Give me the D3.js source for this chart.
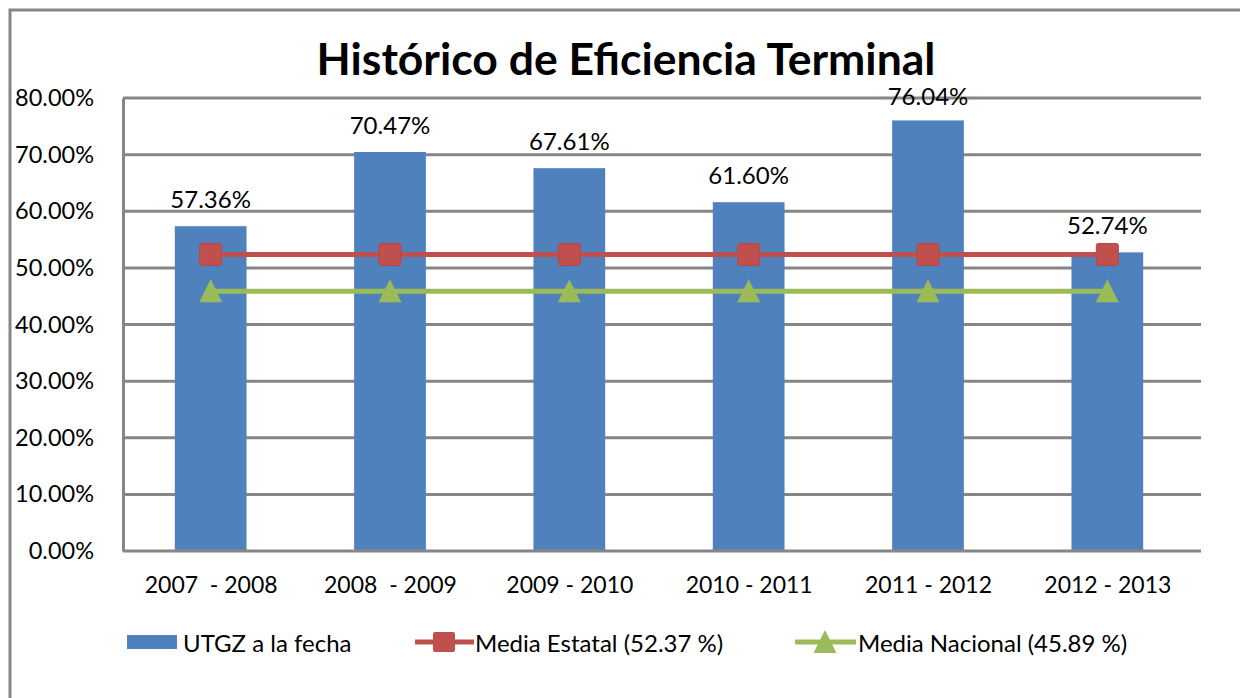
<!DOCTYPE html>
<meta charset="utf-8">
<style>
  body { margin: 0; background: #fff; }
  text { font-family: Lato, 'Open Sans', sans-serif; fill: #000; white-space: pre; }
</style>
<script src="https://d3js.org/d3.v7.min.js"></script>
<div id="chart"></div>
<script>
// data
var categories = ["2007  - 2008", "2008  - 2009", "2009 - 2010", "2010 - 2011", "2011 - 2012", "2012 - 2013"];
var utgz = [57.36, 70.47, 67.61, 61.60, 76.04, 52.74];
var mediaEstatal = [52.37, 52.37, 52.37, 52.37, 52.37, 52.37];
var mediaNacional = [45.89, 45.89, 45.89, 45.89, 45.89, 45.89];
var yTicks = [0, 10, 20, 30, 40, 50, 60, 70, 80];

var W = 1240, H = 698;
var blue = "#4F81BD", red = "#C0504D", green = "#9BBB59", grid = "#868686";

var svg = d3.select("#chart").append("svg")
  .attr("width", W).attr("height", H);

// outer frame
svg.append("rect")
  .attr("x", 10).attr("y", 10)
  .attr("width", W).attr("height", H)
  .attr("fill", "none").attr("stroke", grid).attr("stroke-width", 3);

var plotL = 123, plotR = 1201, plotT = 98, plotB = 551;

// categories sit slightly left of the axis box, like the original
var x = d3.scaleBand().domain(categories).range([121, 1197]).paddingInner(0.6).paddingOuter(0.3);
var xc = d3.scalePoint().domain(categories).range([121, 1197]).padding(0.5);
var y = d3.scaleLinear().domain([0, 80]).range([plotB, plotT]);

// title
svg.append("text")
  .attr("x", 626).attr("y", 75)
  .attr("text-anchor", "middle")
  .style("font-size", "44.5px").style("font-weight", "bold")
  .text("Histórico de Eficiencia Terminal");

// gridlines
svg.append("g").selectAll("line")
  .data(yTicks.slice(1))
  .enter().append("line")
    .attr("x1", plotL).attr("x2", plotR)
    .attr("y1", function(d) { return y(d); })
    .attr("y2", function(d) { return y(d); })
    .attr("stroke", grid).attr("stroke-width", 3);

// y axis
var yAxis = svg.append("g")
  .attr("transform", "translate(" + plotL + ",0)")
  .call(d3.axisLeft(y).tickValues(yTicks).tickSize(0).tickPadding(29)
    .tickFormat(function(d) { return d.toFixed(2) + "%"; }));
yAxis.select(".domain").attr("stroke", grid).attr("stroke-width", 3);
yAxis.selectAll("text").style("font-size", "23.5px").style("font-family", "Lato, sans-serif");

// bars
svg.append("g").selectAll("rect")
  .data(utgz)
  .enter().append("rect")
    .attr("x", function(d, i) { return x(categories[i]); })
    .attr("y", function(d) { return y(d); })
    .attr("width", x.bandwidth())
    .attr("height", function(d) { return plotB - y(d); })
    .attr("fill", blue);

// x axis
var xAxis = svg.append("g")
  .attr("transform", "translate(0," + plotB + ")")
  .call(d3.axisBottom(xc).tickSize(0).tickPadding(26));
xAxis.select(".domain").attr("d", "M" + plotL + ",0H" + plotR).attr("stroke", grid).attr("stroke-width", 3);
xAxis.selectAll("text").style("font-size", "23px").style("font-family", "Lato, sans-serif");

// bar labels
svg.append("g").selectAll("text")
  .data(utgz)
  .enter().append("text")
    .attr("x", function(d, i) { return xc(categories[i]); })
    .attr("y", function(d) { return Math.max(y(d) - 18, plotT + 7); })
    .attr("text-anchor", "middle")
    .style("font-size", "24px")
    .text(function(d) { return d.toFixed(2) + "%"; });

var line = d3.line()
  .x(function(d, i) { return xc(categories[i]); })
  .y(function(d) { return y(d); });

// media estatal
svg.append("path").datum(mediaEstatal)
  .attr("d", line).attr("fill", "none")
  .attr("stroke", red).attr("stroke-width", 5);
svg.append("g").selectAll("rect")
  .data(mediaEstatal)
  .enter().append("rect")
    .attr("x", function(d, i) { return xc(categories[i]) - 11; })
    .attr("y", function(d) { return y(d) - 11; })
    .attr("width", 22).attr("height", 22).attr("rx", 2)
    .attr("fill", red).attr("stroke", "#B84744").attr("stroke-width", 1);

// media nacional
var tri = "M0,-12L11.5,11L-11.5,11Z";
svg.append("path").datum(mediaNacional)
  .attr("d", line).attr("fill", "none")
  .attr("stroke", green).attr("stroke-width", 5);
svg.append("g").selectAll("path")
  .data(mediaNacional)
  .enter().append("path")
    .attr("d", tri)
    .attr("transform", function(d, i) { return "translate(" + xc(categories[i]) + "," + y(d) + ")"; })
    .attr("fill", green);

// legend
var lg = svg.append("g").attr("transform", "translate(0,642)");
lg.append("rect").attr("x", 127).attr("y", -7).attr("width", 50).attr("height", 14).attr("fill", blue);
lg.append("text").attr("x", 183).attr("y", 10).style("font-size", "24px").text("UTGZ a la fecha");

lg.append("line").attr("x1", 415).attr("x2", 474).attr("y1", 0).attr("y2", 0)
  .attr("stroke", red).attr("stroke-width", 5);
lg.append("rect").attr("x", 433).attr("y", -10).attr("width", 22).attr("height", 20).attr("rx", 2).attr("fill", red);
lg.append("text").attr("x", 475).attr("y", 10).style("font-size", "24px").text("Media Estatal (52.37 %)");

lg.append("line").attr("x1", 795).attr("x2", 856).attr("y1", 0).attr("y2", 0)
  .attr("stroke", green).attr("stroke-width", 5);
lg.append("path").attr("d", tri).attr("transform", "translate(825,0)").attr("fill", green);
lg.append("text").attr("x", 858).attr("y", 10).style("font-size", "24px").text("Media Nacional (45.89 %)");
</script>
